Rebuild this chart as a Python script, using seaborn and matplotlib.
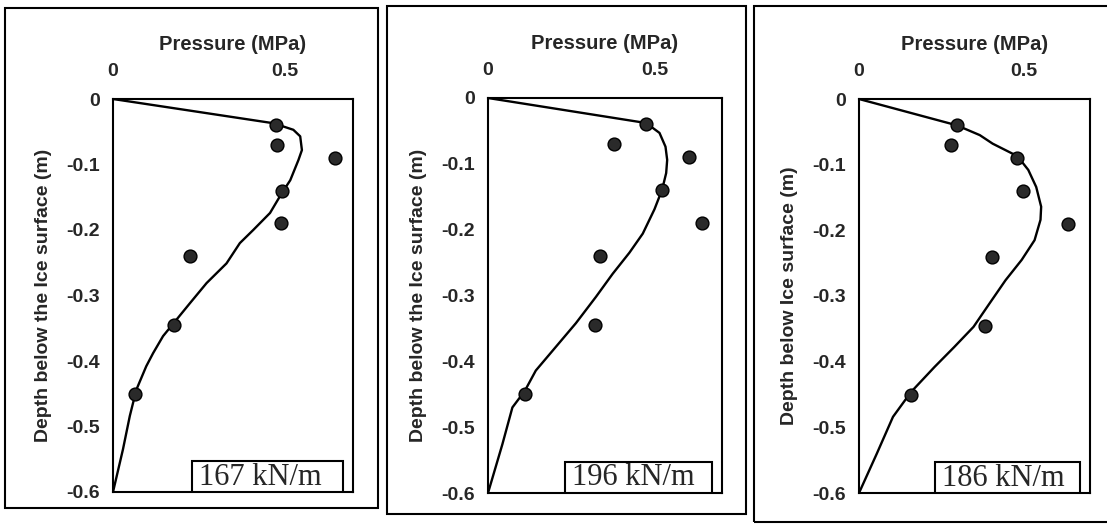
import numpy as np
import pandas as pd
import matplotlib
matplotlib.use('Agg')
import matplotlib.pyplot as plt
import matplotlib.patches as patches
import seaborn as sns

# measured points (same depths in all three tests)
depths = [-0.04, -0.07, -0.09, -0.14, -0.19, -0.24, -0.345, -0.45]
p_167 = [0.475, 0.478, 0.648, 0.492, 0.490, 0.224, 0.177, 0.063]
p_196 = [0.473, 0.378, 0.601, 0.521, 0.641, 0.336, 0.321, 0.110]
p_186 = [0.296, 0.278, 0.480, 0.496, 0.633, 0.402, 0.383, 0.158]

# fitted profile curves
curve_167_x = [0, 0.468, 0.526, 0.546, 0.551, 0.541, 0.517, 0.492, 0.458, 0.409, 0.370,
               0.331, 0.273, 0.224, 0.185, 0.146, 0.117, 0.097, 0.068, 0.049, 0.029, 0]
curve_167_y = [0, -0.037, -0.047, -0.057, -0.078, -0.093, -0.124, -0.144, -0.174, -0.200, -0.220,
               -0.251, -0.281, -0.312, -0.337, -0.362, -0.388, -0.408, -0.444, -0.484, -0.535, -0.6]

curve_196_x = [0, 0.473, 0.513, 0.531, 0.536, 0.533, 0.521, 0.498, 0.463, 0.423, 0.373,
               0.323, 0.263, 0.193, 0.143, 0.110, 0.073, 0.043, 0]
curve_196_y = [0, -0.038, -0.053, -0.074, -0.094, -0.114, -0.139, -0.169, -0.206, -0.235, -0.267,
               -0.302, -0.342, -0.384, -0.414, -0.445, -0.470, -0.526, -0.6]

curve_186_x = [0, 0.296, 0.366, 0.405, 0.480, 0.513, 0.537, 0.552, 0.550, 0.532, 0.493,
               0.444, 0.396, 0.347, 0.288, 0.229, 0.158, 0.103, 0.054, 0]
curve_186_y = [0, -0.040, -0.055, -0.068, -0.087, -0.108, -0.134, -0.164, -0.184, -0.215, -0.245,
               -0.276, -0.311, -0.347, -0.378, -0.408, -0.446, -0.484, -0.540, -0.6]

panel_labels = ['167 kN/m', '196 kN/m', '186 kN/m']
y_titles = ['Depth below the Ice surface (m)',
            'Depth below the Ice surface (m)',
            'Depth below Ice surface (m)']
x_ticks = [0, 0.5]
x_ticklabels = ['0', '0.5']
y_ticks = [0, -0.1, -0.2, -0.3, -0.4, -0.5, -0.6]
y_ticklabels = ['0', '-0.1', '-0.2', '-0.3', '-0.4', '-0.5', '-0.6']

sns.set_style('white')
plt.rcParams['font.family'] = ['Liberation Sans', 'DejaVu Sans']

W, H = 1107, 529
fig = plt.figure(figsize=(W / 100, H / 100), dpi=100)

# axes boxes in pixels: left, right, top, bottom
axes_px = [(113, 353, 99, 492), (488, 722, 98, 493), (859, 1090, 99, 493)]
# outer frames of each panel in pixels
frames_px = [(5, 378, 8, 508), (387, 746, 6, 514), (754, 1115, 6, 522)]

for fl, fr, ft, fb in frames_px:
    fig.patches.append(patches.Rectangle((fl / W, 1 - fb / H), (fr - fl) / W, (fb - ft) / H,
                                         transform=fig.transFigure, fill=False,
                                         edgecolor='black', linewidth=1.5))

points = [p_167, p_196, p_186]
curves = [(curve_167_x, curve_167_y), (curve_196_x, curve_196_y), (curve_186_x, curve_186_y)]

for i, (l, r, t, b) in enumerate(axes_px):
    ax = fig.add_axes([l / W, 1 - b / H, (r - l) / W, (b - t) / H])
    cx, cy = curves[i]
    curve_df = pd.DataFrame({'x': cx, 'y': cy})
    sns.lineplot(data=curve_df, x='x', y='y', sort=False, estimator=None,
                 color='black', linewidth=1.7, ax=ax)
    pts = pd.DataFrame({'x': points[i], 'y': depths})
    sns.scatterplot(data=pts, x='x', y='y', s=85, color='#2a2a2a',
                    edgecolor='black', linewidth=1.0, ax=ax, zorder=3)

    ax.set_xlim(0, 0.7)
    ax.set_ylim(-0.6, 0)
    ax.xaxis.tick_top()
    ax.xaxis.set_label_position('top')
    ax.set_xticks(x_ticks)
    ax.set_xticklabels(x_ticklabels)
    ax.set_yticks(y_ticks)
    ax.set_yticklabels(y_ticklabels)
    ax.tick_params(axis='x', length=0, pad=14, labelsize=14)
    ax.tick_params(axis='y', direction='inout', length=7, width=1, pad=6, labelsize=14)
    for lab in ax.get_xticklabels() + ax.get_yticklabels():
        lab.set_fontweight('bold')
    ax.set_xlabel('Pressure (MPa)', fontsize=14.5, fontweight='bold', labelpad=9)
    ax.set_ylabel(y_titles[i], fontsize=14, fontweight='bold', labelpad=10)
    for sp in ax.spines.values():
        sp.set_visible(True)
        sp.set_color('black')
        sp.set_linewidth(1.5)

    # label box in the lower right corner
    ax.add_patch(patches.Rectangle((0.33, 0.0), 0.628, 0.079, transform=ax.transAxes,
                                   facecolor='white', edgecolor='black', linewidth=1.5,
                                   zorder=4))
    ax.text(0.36, 0.038, panel_labels[i], transform=ax.transAxes, ha='left', va='center',
            fontsize=22, family=['Liberation Serif', 'DejaVu Serif'], zorder=5)

fig.savefig('out.png', dpi=100, facecolor='white')
